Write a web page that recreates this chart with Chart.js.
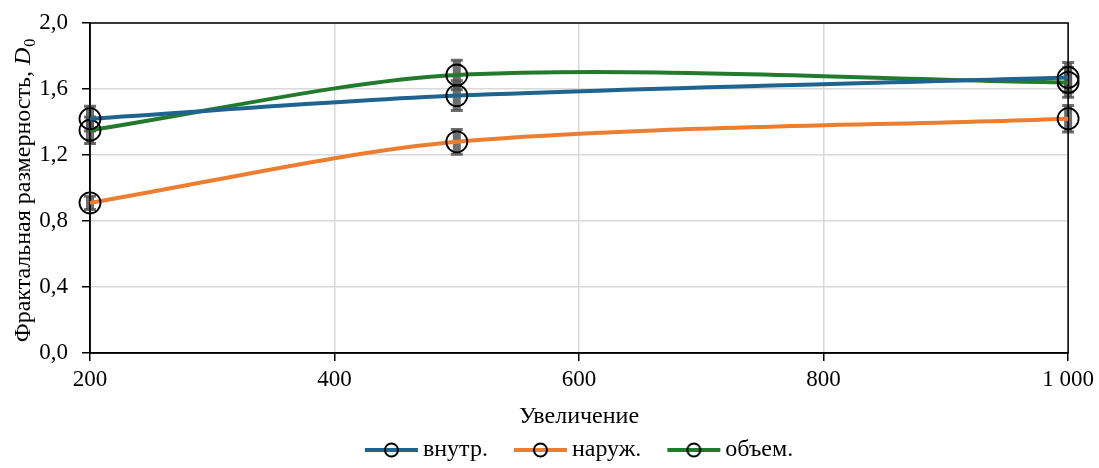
<!DOCTYPE html>
<html>
<head>
<meta charset="utf-8">
<script src="https://cdn.jsdelivr.net/npm/chart.js@4"></script>
<style>
	html, body { margin: 0; padding: 0; background: #fff; }
	#wrap { width: 1099px; height: 468px; }
</style>
</head>
<body>
<div id="wrap"><canvas id="grafik"></canvas></div>
<script>
// data
var xValues = [200, 500, 1000];
var seriesNames = ['внутр.', 'наруж.', 'объем.'];
var vnutr = [1.42, 1.56, 1.67];
var naruzh = [0.91, 1.28, 1.42];
var obem = [1.35, 1.685, 1.64];
var vnutrErr = [0.075, 0.09, 0.09];
var naruzhErr = [0.04, 0.075, 0.08];
var obemErr = [0.08, 0.09, 0.09];
var xTicks = [200, 400, 600, 800, 1000];
var xTickLabels = ['200', '400', '600', '800', '1 000'];
var yTicks = [0, 0.4, 0.8, 1.2, 1.6, 2.0];
var yTickLabels = ['0,0', '0,4', '0,8', '1,2', '1,6', '2,0'];
var xTitle = 'Увеличение';
var yTitle = 'Фрактальная размерность, ';

var colors = ['#1f6391', '#ed7d31', '#247a2c'];
var FONT = 'Liberation Serif';

function toPoints(ys) {
	return xValues.map(function (x, i) { return { x: x, y: ys[i] }; });
}

// legend marker: line with open circle
function legendMarker(color) {
	var c = document.createElement('canvas');
	c.width = 78;
	c.height = 18;
	var g = c.getContext('2d');
	g.strokeStyle = color;
	g.lineWidth = 4;
	g.beginPath();
	g.moveTo(24, 9);
	g.lineTo(77, 9);
	g.stroke();
	g.strokeStyle = '#000';
	g.lineWidth = 2;
	g.beginPath();
	g.arc(50.5, 9, 6.5, 0, Math.PI * 2);
	g.stroke();
	return c;
}

var errorBars = {
	id: 'errorBars',
	beforeDatasetsDraw: function (chart) {
		var ctx = chart.ctx;
		var xs = chart.scales.x, ys = chart.scales.y;
		ctx.save();
		chart.data.datasets.forEach(function (ds) {
			ds.data.forEach(function (p, i) {
				var px = xs.getPixelForValue(p.x);
				var top = ys.getPixelForValue(p.y + ds.err[i]);
				var bot = ys.getPixelForValue(p.y - ds.err[i]);
				ctx.strokeStyle = 'rgba(85,85,85,0.85)';
				ctx.lineWidth = 8;
				ctx.beginPath();
				ctx.moveTo(px, top);
				ctx.lineTo(px, bot);
				ctx.stroke();
				ctx.lineWidth = 3;
				ctx.beginPath();
				ctx.moveTo(px - 6, top);
				ctx.lineTo(px + 6, top);
				ctx.moveTo(px - 6, bot);
				ctx.lineTo(px + 6, bot);
				ctx.stroke();
			});
		});
		ctx.restore();
	}
};

var frameAndTitle = {
	id: 'frameAndTitle',
	afterLayout: function (chart) {
		// legend centred under the plot area
		var a = chart.chartArea;
		chart.legend.left = a.left - 8;
		chart.legend.right = a.right - 8;
	},
	beforeDatasetsDraw: function (chart) {
		var a = chart.chartArea;
		var ctx = chart.ctx;
		ctx.save();
		ctx.strokeStyle = '#000';
		ctx.lineWidth = 1.5;
		ctx.strokeRect(a.left, a.top, a.right - a.left, a.bottom - a.top);
		ctx.restore();
	},
	afterDraw: function (chart) {
		var a = chart.chartArea;
		var ctx = chart.ctx;
		ctx.save();
		ctx.fillStyle = '#000';
		ctx.textBaseline = 'alphabetic';
		ctx.font = '24px "' + FONT + '"';
		var w1 = ctx.measureText(yTitle).width;
		ctx.font = 'italic 24px "' + FONT + '"';
		var w2 = ctx.measureText('D').width;
		ctx.font = '16px "' + FONT + '"';
		var w3 = ctx.measureText('0').width;
		var total = w1 + w2 + w3;
		ctx.translate(30, (a.top + a.bottom) / 2 + 3);
		ctx.rotate(-Math.PI / 2);
		var x0 = -total / 2;
		ctx.font = '24px "' + FONT + '"';
		ctx.fillText(yTitle, x0, 0);
		ctx.font = 'italic 24px "' + FONT + '"';
		ctx.fillText('D', x0 + w1, 0);
		ctx.font = '16px "' + FONT + '"';
		ctx.fillText('0', x0 + w1 + w2 + 1, 5);
		ctx.restore();
	}
};

var datasets = [vnutr, naruzh, obem].map(function (ys, k) {
	return {
		label: seriesNames[k],
		data: toPoints(ys),
		err: [vnutrErr, naruzhErr, obemErr][k],
		borderColor: colors[k],
		borderWidth: 4,
		tension: 0.3,
		fill: false,
		clip: false,
		pointRadius: 10.5,
		pointBorderWidth: 1.8,
		pointBorderColor: '#000',
		pointBackgroundColor: 'rgba(0,0,0,0)',
		pointStyle: 'circle'
	};
});

Chart.defaults.font.family = FONT;
Chart.defaults.color = '#000';

new Chart(document.getElementById('grafik'), {
	type: 'line',
	data: { datasets: datasets },
	options: {
		responsive: true,
		maintainAspectRatio: false,
		animation: false,
		events: [],
		layout: { padding: { top: 23, right: 30, left: 0, bottom: -4 } },
		plugins: {
			tooltip: { enabled: false },
			legend: {
				position: 'bottom',
				labels: {
					usePointStyle: true,
					pointStyleWidth: 62,
					padding: 10,
					color: '#000',
					font: { size: 24 },
					generateLabels: function (chart) {
						return chart.data.datasets.map(function (ds, i) {
							return {
								text: ds.label,
								pointStyle: legendMarker(ds.borderColor),
								fontColor: '#000',
								strokeStyle: ds.borderColor,
								lineWidth: 0,
								datasetIndex: i
							};
						});
					}
				}
			}
		},
		scales: {
			x: {
				type: 'linear',
				min: 200,
				max: 1000,
				afterBuildTicks: function (s) {
					s.ticks = xTicks.map(function (v) { return { value: v }; });
				},
				afterFit: function (s) { s.height = 75; },
				ticks: {
					padding: 5,
					maxRotation: 0,
					font: { size: 23 },
					callback: function (v) { return xTickLabels[xTicks.indexOf(v)]; }
				},
				grid: { color: '#d9d9d9', lineWidth: 1.5, tickColor: '#000', tickLength: 8 },
				border: { color: '#000', width: 1.5 },
				title: { display: true, text: xTitle, font: { size: 24 }, padding: { top: 0, bottom: -3 } }
			},
			y: {
				min: 0,
				max: 2.0,
				afterBuildTicks: function (s) {
					s.ticks = yTicks.map(function (v) { return { value: v }; });
				},
				afterFit: function (s) {
					s.width = 90;
					s.paddingTop = 0;
					s.paddingBottom = 0;
				},
				ticks: {
					padding: 14,
					font: { size: 23 },
					callback: function (v) { return yTickLabels[yTicks.indexOf(v)]; }
				},
				grid: { color: '#d9d9d9', lineWidth: 1.5, tickColor: '#000', tickLength: 8 },
				border: { color: '#000', width: 1.5 }
			}
		}
	},
	plugins: [errorBars, frameAndTitle]
});
</script>
</body>
</html>
